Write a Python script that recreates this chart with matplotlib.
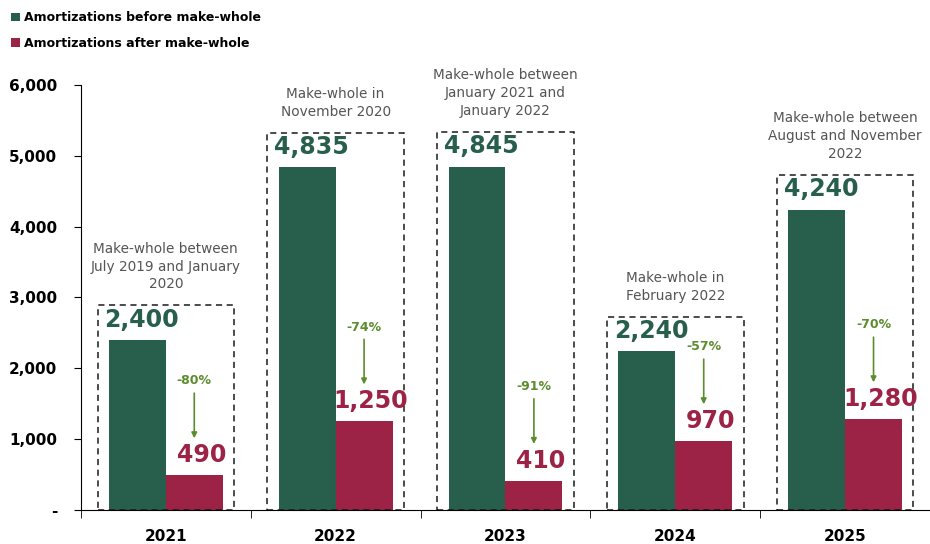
import matplotlib.pyplot as plt
import matplotlib.patches as mpatches
from matplotlib.ticker import FuncFormatter
from matplotlib.transforms import offset_copy

plt.rcParams['font.family'] = ['DejaVu Sans']

years = ['2021', '2022', '2023', '2024', '2025']
before = [2400, 4835, 4845, 2240, 4240]
after = [490, 1250, 410, 970, 1280]
reduction = ['-80%', '-74%', '-91%', '-57%', '-70%']
notes = [
    'Make-whole between\nJuly 2019 and January\n2020',
    'Make-whole in\nNovember 2020',
    'Make-whole between\nJanuary 2021 and\nJanuary 2022',
    'Make-whole in\nFebruary 2022',
    'Make-whole between\nAugust and November\n2022',
]

GREEN = '#285E4C'
RED = '#9C2346'
ARROW = '#5B8C2E'
GREY = '#555555'

fig = plt.figure(figsize=(9.3, 5.44), dpi=100)
ax = fig.add_axes([0.087, 0.0625, 0.913, 0.7813])

x = list(range(len(years)))
w = 0.335
ax.bar([i - w / 2 for i in x], before, width=w, color=GREEN, label='Amortizations before make-whole')
ax.bar([i + w / 2 for i in x], after, width=w, color=RED, label='Amortizations after make-whole')

# arrow tip sits 37 px above the red bar top
arrow_tip = offset_copy(ax.transData, fig=fig, x=0, y=37, units='dots')

for i in x:
    # value labels
    ax.annotate(f'{before[i]:,}', (i - w / 2, before[i]), xytext=(3, 6), textcoords='offset points',
                ha='center', va='bottom', fontsize=17, fontweight='bold', color=GREEN)
    ax.annotate(f'{after[i]:,}', (i + w / 2, after[i]), xytext=(5, 6), textcoords='offset points',
                ha='center', va='bottom', fontsize=17, fontweight='bold', color=RED)

    # reduction arrow and percentage
    ax.annotate('', xy=(i + w / 2, after[i]), xycoords=arrow_tip, xytext=(0, 32.5),
                textcoords='offset points',
                arrowprops=dict(arrowstyle='-|>', color=ARROW, lw=1.2, mutation_scale=8,
                                shrinkA=0, shrinkB=0))
    ax.annotate(reduction[i], (i + w / 2, after[i]), xytext=(0, 68), textcoords='offset points',
                ha='center', va='center', fontsize=9, fontweight='bold', color=ARROW)

    # dashed frame around each year
    top = max(before[i], after[i]) + 490
    ax.add_patch(mpatches.Rectangle((i - 0.402, 0), 0.804, top, fill=False, edgecolor='#1a1a1a',
                                    linestyle=(0, (4, 3)), linewidth=1.1, clip_on=False))
    ax.annotate(notes[i], (i, top), xytext=(0, 10), textcoords='offset points', ha='center',
                va='bottom', fontsize=9.8, color=GREY, linespacing=1.35)

ax.set_xlim(-0.5, 4.45)
ax.set_ylim(0, 6000)
ax.set_yticks(range(0, 6001, 1000))
ax.yaxis.set_major_formatter(FuncFormatter(lambda v, p: '-' if v == 0 else f'{int(v):,}'))
ax.set_xticks(x)
ax.set_xticklabels(years)
ax.set_xticks([i - 0.5 for i in range(6)], minor=True)
ax.tick_params(axis='x', which='major', length=0, pad=14, labelsize=11)
ax.tick_params(axis='x', which='minor', length=6, direction='out')
ax.tick_params(axis='y', length=5, pad=12, labelsize=11)
for lab in ax.get_xticklabels() + ax.get_yticklabels():
    lab.set_fontweight('bold')
for s in ('top', 'right'):
    ax.spines[s].set_visible(False)

fig.legend(loc='upper left', bbox_to_anchor=(0.0, 1.0), frameon=False, handlelength=0.7,
           handleheight=0.7, handletextpad=0.3, labelspacing=1.0,
           prop={'weight': 'bold', 'size': 9})

fig.savefig('out.png', dpi=100)
